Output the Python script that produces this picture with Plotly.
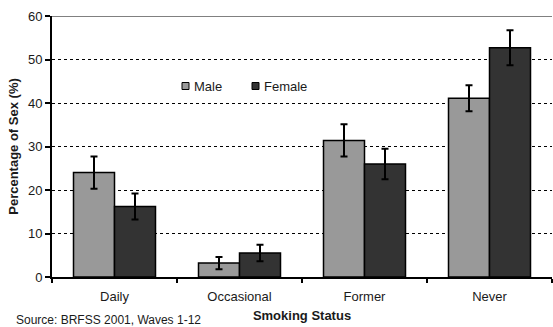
import plotly.graph_objects as go

# Smoking status by sex, percentages with error bars
categories = ["Daily", "Occasional", "Former", "Never"]
male_pct = [24.0, 3.2, 31.4, 41.1]
male_err = [3.7, 1.4, 3.7, 3.0]
female_pct = [16.2, 5.5, 26.0, 52.7]
female_err = [3.0, 1.9, 3.5, 4.0]
series_names = ["Male", "Female"]
series_colors = ["#999999", "#333333"]

W, H = 553, 327
M = dict(l=52, r=1, t=16, b=50)
FONT = "Liberation Sans"
TXT = "#1a1a1a"

fig = go.Figure()
for name, vals, errs, color in zip(series_names, [male_pct, female_pct],
                                   [male_err, female_err], series_colors):
    fig.add_trace(go.Bar(
        x=categories, y=vals, name=name,
        marker=dict(color=color, line=dict(color="black", width=1.5)),
        error_y=dict(type="data", array=errs, color="black",
                     thickness=2, width=3.5),
        showlegend=False,
    ))

fig.update_layout(
    width=W, height=H, margin=M,
    paper_bgcolor="white", plot_bgcolor="white",
    barmode="group", bargap=0.344, bargroupgap=0,
    font=dict(family=FONT, size=13, color=TXT),
    xaxis=dict(
        type="category", range=[-0.5, 3.5],
        showline=True, linecolor="black", linewidth=2,
        ticks="outside", tickson="boundaries", ticklen=4,
        tickwidth=2, tickcolor="black",
        ticklabelstandoff=6,
        tickfont=dict(size=13, color=TXT),
        showgrid=False,
        title=dict(text="<b>Smoking Status</b>", standoff=8,
                   font=dict(size=13, color=TXT)),
    ),
    yaxis=dict(
        range=[0, 60], dtick=10,
        showline=True, linecolor="black", linewidth=2,
        ticks="outside", ticklen=5, tickwidth=1.5, tickcolor="black",
        tickfont=dict(size=13, color=TXT),
        showgrid=True, gridcolor="black", gridwidth=1, griddash="dot",
        zeroline=False,
        title=dict(text="<b>Percentage of Sex (%)</b>", standoff=6,
                   font=dict(size=13, color=TXT)),
    ),
)

# solid grey rule along the top of the plot area
fig.add_shape(type="line", xref="paper", yref="y", x0=0, x1=1, y0=60, y1=60,
              line=dict(color="#808080", width=2))

# legend: small outlined swatches followed by labels
plot_w = W - M["l"] - M["r"]
plot_h = H - M["t"] - M["b"]
leg_y_px = 86
leg_items = [(182, 193), (252, 263)]
for (sx, tx), name, color in zip(leg_items, series_names, series_colors):
    y0 = 1 - (leg_y_px + 3.5 - M["t"]) / plot_h
    y1 = 1 - (leg_y_px - 3.5 - M["t"]) / plot_h
    fig.add_shape(type="rect", xref="paper", yref="paper",
                  x0=(sx - M["l"]) / plot_w, x1=(sx + 7 - M["l"]) / plot_w,
                  y0=y0, y1=y1, fillcolor=color,
                  line=dict(color="black", width=1))
    fig.add_annotation(xref="paper", yref="paper",
                       x=(tx - M["l"]) / plot_w,
                       y=1 - (leg_y_px - M["t"]) / plot_h,
                       text=name, showarrow=False, xanchor="left",
                       yanchor="middle", xshift=-1,
                       font=dict(size=13, color=TXT))

# data source note in the lower left corner
fig.add_annotation(xref="paper", yref="paper",
                   x=(14 - M["l"]) / plot_w, y=-(H - (H - M["b"])) / plot_h,
                   text="Source: BRFSS 2001, Waves 1-12", showarrow=False,
                   xanchor="left", yanchor="bottom", yshift=-2,
                   font=dict(size=12, color=TXT))

fig.write_html("out.html")
